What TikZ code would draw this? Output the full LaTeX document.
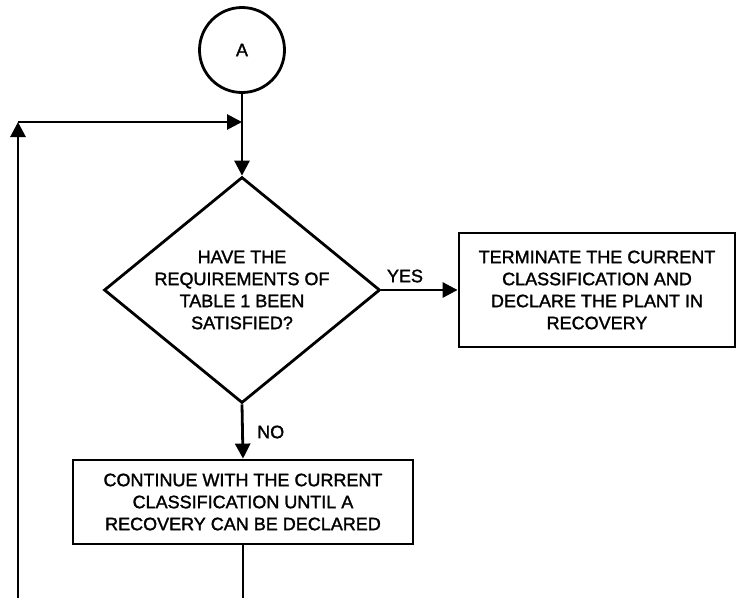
\documentclass[tikz,border=0pt]{standalone}
\usepackage{fontspec}
\setmainfont{Liberation Sans}[FakeBold=1.6,AutoFakeBold=1.6]
\newfontfamily\heavy{Liberation Sans}[FakeBold=1.6]
\usetikzlibrary{shapes.geometric,arrows.meta}
\tikzset{
  line/.style={line width=2.8pt},
  arr/.style={line width=2.8pt,-{Triangle[length=15pt,width=15pt]}},
  box/.style={draw,line width=2.8pt,rectangle,inner sep=0pt,align=center,font=\heavy\fontsize{18}{22}\selectfont},
  txt/.style={align=center,inner sep=0pt,font=\heavy\fontsize{18}{22}\selectfont},
  lbl/.style={inner sep=0pt,font=\heavy\fontsize{18}{22}\selectfont}
}
\begin{document}
\begin{tikzpicture}[x=1pt,y=-1pt]
\useasboundingbox (0,0) rectangle (737,598);
\node[draw,circle,line width=2.8pt,minimum size=85pt,inner sep=0pt,font=\heavy\fontsize{18}{22}\selectfont] (A) at (242,50) {A};
\node[draw,diamond,line width=2.8pt,minimum width=276pt,minimum height=226pt,inner sep=0pt] (d) at (242,290) {};
\node[txt] (dt) at (242,290) {HAVE THE\\REQUIREMENTS OF\\TABLE 1 BEEN\\SATISFIED?};
\node[box,minimum width=276pt,minimum height=114pt] (term) at (597,290) {TERMINATE THE CURRENT\\CLASSIFICATION AND\\DECLARE THE PLANT IN\\RECOVERY};
\node[box,minimum width=340pt,minimum height=84pt] (cont) at (243,502) {CONTINUE WITH THE CURRENT\\CLASSIFICATION UNTIL A\\RECOVERY CAN BE DECLARED};
\node[lbl] (yes) at (405,276) {YES};
\node[lbl,anchor=west] (no) at (257,432) {NO};
\coordinate (j) at (242,122);
\coordinate (corner) at (18,122);
\coordinate (bl) at (18,598);
\coordinate (bc) at (243,598);
\draw[line] (A.south) -- (j);
\draw[arr] (j) -- (d.north);
\draw[arr] (d.east) -- (term.west);
\draw[arr] (d.south) -- (cont.north);
\draw[line] (cont.south) -- (bc);
\draw[arr] (bl) -- (corner);
\draw[arr] (corner) -- (j);
\end{tikzpicture}
\end{document}
